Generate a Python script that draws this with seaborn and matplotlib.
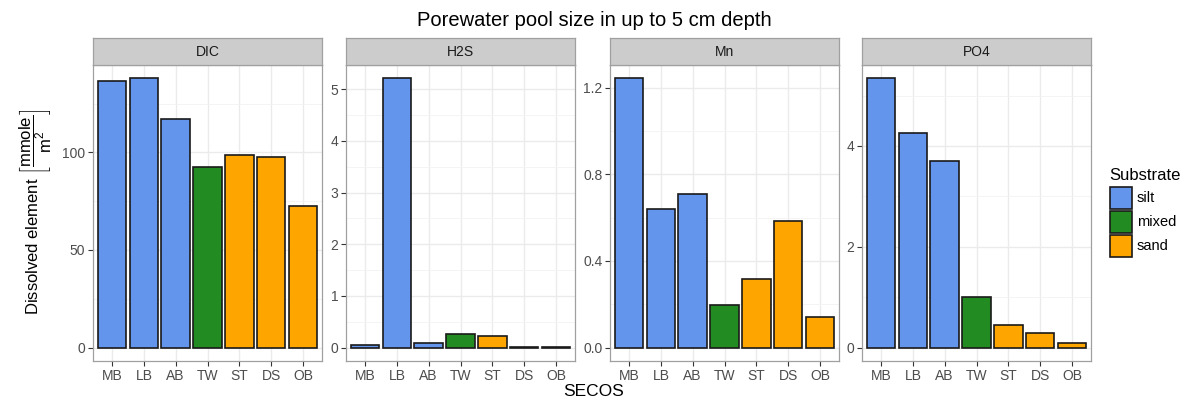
import numpy as np
import pandas as pd
import matplotlib
matplotlib.use("Agg")
import matplotlib.pyplot as plt
from matplotlib.patches import Rectangle
from matplotlib.ticker import MultipleLocator, FormatStrFormatter
import seaborn as sns

# Sites (SECOS stations) and their substrate class
sites = ["MB", "LB", "AB", "TW", "ST", "DS", "OB"]
substrate = ["silt", "silt", "silt", "mixed", "sand", "sand", "sand"]
substrate_levels = ["silt", "mixed", "sand"]
substrate_colors = ["#6495ED", "#228B22", "#FFA500"]

# Porewater pool sizes (mmole / m^2) per element
elements = ["DIC", "H2S", "Mn", "PO4"]
dic = [136.6, 137.9, 117.1, 92.6, 98.5, 97.8, 72.5]
h2s = [0.045, 5.21, 0.084, 0.27, 0.22, 0.005, 0.003]
mn = [1.243, 0.641, 0.709, 0.196, 0.317, 0.586, 0.143]
po4 = [5.34, 4.26, 3.70, 1.01, 0.456, 0.29, 0.086]

# Axis tick settings per element: (major step, minor step, label format)
tick_specs = {
    "DIC": (50, 25, "%d"),
    "H2S": (1, 0.5, "%d"),
    "Mn": (0.4, 0.2, "%.1f"),
    "PO4": (2, 1, "%d"),
}

values = {"DIC": dic, "H2S": h2s, "Mn": mn, "PO4": po4}
df = pd.concat(
    [pd.DataFrame({"element": el, "site": sites, "substrate": substrate, "value": values[el]})
     for el in elements],
    ignore_index=True,
)

plt.rcParams["font.family"] = ["Liberation Sans", "DejaVu Sans"]
plt.rcParams["mathtext.fontset"] = "custom"
plt.rcParams["mathtext.rm"] = "Liberation Sans"
plt.rcParams["mathtext.it"] = "Liberation Sans:italic"
plt.rcParams["mathtext.bf"] = "Liberation Sans:bold"

W, H = 1188, 401
fig = plt.figure(figsize=(W / 100, H / 100), dpi=100)


def fx(px):
    return px / W


def fy(py):
    return 1 - py / H


palette = dict(zip(substrate_levels, substrate_colors))
panel_left = [93, 346, 610, 862]
panel_w = 229
panel_top, panel_bottom = 65, 361
strip_top = 38

text_grey = "#4D4D4D"
border_grey = "#A0A0A0"
edge = "#1a1a1a"

for el, px in zip(elements, panel_left):
    ax = fig.add_axes([fx(px), fy(panel_bottom), panel_w / W, (panel_bottom - panel_top) / H])
    sub = df[df["element"] == el]
    sns.barplot(data=sub, x="site", y="value", hue="substrate", order=sites,
                hue_order=substrate_levels, palette=palette, dodge=False, width=0.9,
                saturation=1, edgecolor=edge, linewidth=1.2, legend=False, ax=ax, zorder=3)
    vmax = max(values[el])
    ax.set_ylim(-0.05 * vmax, 1.05 * vmax)
    ax.set_xlim(-0.6, 6.6)
    major, minor, fmt = tick_specs[el]
    ax.yaxis.set_major_locator(MultipleLocator(major))
    ax.yaxis.set_minor_locator(MultipleLocator(minor))
    ax.yaxis.set_major_formatter(FormatStrFormatter(fmt))
    ax.grid(True, which="major", color="#EBEBEB", linewidth=1.0, zorder=0)
    ax.grid(True, which="minor", axis="y", color="#F3F3F3", linewidth=0.6, zorder=0)
    ax.set_axisbelow(True)
    ax.tick_params(axis="both", which="major", length=3.5, width=0.8, color="#333333",
                   labelsize=10, labelcolor=text_grey, pad=2)
    ax.tick_params(axis="y", which="minor", length=0)
    ax.set_xlabel("")
    ax.set_ylabel("")
    for s in ax.spines.values():
        s.set_color(border_grey)
        s.set_linewidth(0.9)
    # facet strip
    strip = fig.add_axes([fx(px), fy(panel_top), panel_w / W, (panel_top - strip_top) / H])
    strip.set_xticks([])
    strip.set_yticks([])
    strip.set_facecolor("#CCCCCC")
    for s in strip.spines.values():
        s.set_color(border_grey)
        s.set_linewidth(0.9)
    strip.text(0.5, 0.5, el, ha="center", va="center", fontsize=10, color="#1a1a1a",
               transform=strip.transAxes)

fig.text(fx(594), fy(20), "Porewater pool size in up to 5 cm depth",
         ha="center", va="center", fontsize=14.5)
fig.text(fx(594), fy(391), "SECOS", ha="center", va="center", fontsize=12.5)
fig.text(fx(35), fy(212),
         r"Dissolved element $\left[\dfrac{\mathrm{mmole}}{\mathrm{m}^2}\right]$",
         ha="center", va="center", rotation=90, fontsize=12)

# Substrate legend: title, colour keys and labels
fig.text(fx(1109), fy(175), "Substrate", ha="left", va="center", fontsize=12)
key_top = [187, 211, 235]
for c, lab, top in zip(substrate_colors, substrate_levels, key_top):
    fig.add_artist(Rectangle((fx(1110), fy(top + 22)), 22 / W, 22 / H,
                             transform=fig.transFigure, facecolor=c, edgecolor=edge,
                             linewidth=1.2))
    fig.text(fx(1137), fy(top + 11), lab, ha="left", va="center", fontsize=10.5)

fig.savefig("out.png", dpi=100)
